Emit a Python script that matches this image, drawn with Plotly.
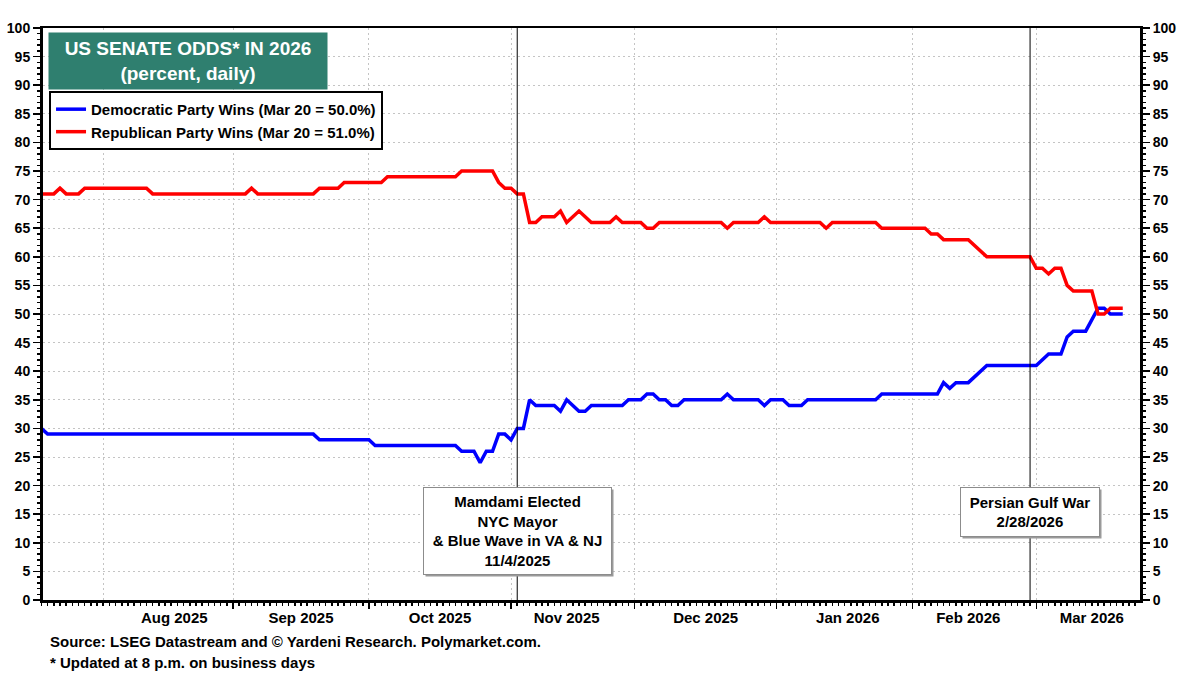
import plotly.graph_objects as go

# ---------------- data ----------------
dem_dates = [
    "2025-07-18", "2025-07-21", "2025-09-18", "2025-09-19", "2025-10-01", "2025-10-02",
    "2025-10-21", "2025-10-22", "2025-10-24", "2025-10-27", "2025-10-28", "2025-10-29",
    "2025-10-30", "2025-10-31", "2025-11-03", "2025-11-04", "2025-11-05", "2025-11-06",
    "2025-11-07", "2025-11-12", "2025-11-13", "2025-11-14", "2025-11-18", "2025-11-19",
    "2025-11-20", "2025-11-27", "2025-11-28", "2025-12-02", "2025-12-03", "2025-12-04",
    "2025-12-05", "2025-12-08", "2025-12-09", "2025-12-10", "2025-12-11", "2025-12-19",
    "2025-12-22", "2025-12-23", "2025-12-29", "2025-12-30", "2025-12-31", "2026-01-02",
    "2026-01-05", "2026-01-07", "2026-01-08", "2026-01-23", "2026-01-26", "2026-02-06",
    "2026-02-09", "2026-02-10", "2026-02-11", "2026-02-13", "2026-02-18", "2026-03-02",
    "2026-03-04", "2026-03-06", "2026-03-09", "2026-03-10", "2026-03-12", "2026-03-16",
    "2026-03-17", "2026-03-18", "2026-03-20",
]
dem_values = [
    30, 29, 29, 28, 28, 27,
    27, 26, 26, 24, 26, 26,
    29, 29, 28, 30, 30, 35,
    34, 34, 33, 35, 33, 33,
    34, 34, 35, 35, 36, 36,
    35, 35, 34, 34, 35, 35,
    36, 35, 35, 34, 35, 35,
    34, 34, 35, 35, 36, 36,
    38, 37, 38, 38, 41, 41,
    43, 43, 46, 47, 47, 51,
    51, 50, 50,
]

rep_dates = [
    "2025-07-18", "2025-07-22", "2025-07-23", "2025-07-24", "2025-07-28", "2025-07-29",
    "2025-08-12", "2025-08-13", "2025-09-03", "2025-09-04", "2025-09-05", "2025-09-18",
    "2025-09-19", "2025-09-24", "2025-09-25", "2025-10-03", "2025-10-06", "2025-10-21",
    "2025-10-22", "2025-10-29", "2025-10-30", "2025-10-31", "2025-11-03", "2025-11-04",
    "2025-11-05", "2025-11-06", "2025-11-07", "2025-11-10", "2025-11-12", "2025-11-13",
    "2025-11-14", "2025-11-18", "2025-11-20", "2025-11-25", "2025-11-26", "2025-11-27",
    "2025-12-02", "2025-12-03", "2025-12-04", "2025-12-05", "2025-12-19", "2025-12-22",
    "2025-12-23", "2025-12-29", "2025-12-30", "2025-12-31", "2026-01-12", "2026-01-13",
    "2026-01-14", "2026-01-23", "2026-01-26", "2026-02-04", "2026-02-05", "2026-02-06",
    "2026-02-09", "2026-02-13", "2026-02-18", "2026-02-27", "2026-03-02", "2026-03-03",
    "2026-03-04", "2026-03-05", "2026-03-06", "2026-03-09", "2026-03-10", "2026-03-13",
    "2026-03-16", "2026-03-17", "2026-03-18", "2026-03-20",
]
rep_values = [
    71, 71, 72, 71, 71, 72,
    72, 71, 71, 72, 71, 71,
    72, 72, 73, 73, 74, 74,
    75, 75, 73, 72, 72, 71,
    71, 66, 66, 67, 67, 68,
    66, 68, 66, 66, 67, 66,
    66, 65, 65, 66, 66, 65,
    66, 66, 67, 66, 66, 65,
    66, 66, 65, 65, 64, 64,
    63, 63, 60, 60, 58, 58,
    57, 58, 58, 55, 54, 54,
    50, 50, 51, 51,
]

event_dates = ["2025-11-04", "2026-02-27"]
event_texts = [
    "<b>Mamdami Elected<br>NYC Mayor<br>&amp; Blue Wave in VA &amp; NJ<br>11/4/2025</b>",
    "<b>Persian Gulf War<br>2/28/2026</b>",
]
event_label_y = [12.1, 15.4]
event_box_w = [187, 138]
event_box_h = [86, 48]

last_label = "Mar 20"
x_range = ["2025-07-18 06:00", "2026-03-24 19:00"]

FONT = "Liberation Sans, Arial, sans-serif"
BLUE = "#0000FF"
RED = "#FF0000"
TEAL = "#2F7F6F"
GRID = "#C4C4C4"

fig = go.Figure()
fig.add_trace(go.Scatter(
    x=dem_dates, y=dem_values, mode="lines",
    line=dict(color=BLUE, width=3.5),
    name=f"Democratic Party Wins ({last_label} = {dem_values[-1]:.1f}%)",
))
fig.add_trace(go.Scatter(
    x=rep_dates, y=rep_values, mode="lines",
    line=dict(color=RED, width=3.5),
    name=f"Republican Party Wins ({last_label} = {rep_values[-1]:.1f}%)",
))
# empty trace so the mirrored right axis renders
fig.add_trace(go.Scatter(x=[], y=[], yaxis="y2", showlegend=False, hoverinfo="skip"))

yaxis_common = dict(
    range=[0, 100], dtick=5, tick0=0,
    ticks="outside", ticklen=7, tickwidth=1.5, tickcolor="black",
    showline=True, linecolor="black", linewidth=3,
    tickfont=dict(family=FONT, size=14, color="black", weight="bold"),
    minor=dict(ticks="outside", ticklen=3, dtick=1, tickcolor="black", showgrid=False),
    zeroline=False, fixedrange=True, automargin=False,
)

fig.update_layout(
    width=1200, height=675,
    margin=dict(l=43, r=60, t=28, b=75, autoexpand=False),
    paper_bgcolor="white", plot_bgcolor="white",
    font=dict(family=FONT, color="black"),
    xaxis=dict(
        type="date", range=x_range,
        rangebreaks=[dict(bounds=["sat", "mon"])],
        dtick="M1", tick0="2025-08-01", ticklabelmode="period", tickformat="%b %Y",
        ticks="outside", ticklen=6, tickwidth=1.5, tickcolor="black",
        ticklabelstandoff=-4,
        tickfont=dict(family=FONT, size=15, color="black", weight="bold"),
        showgrid=True, gridcolor=GRID, griddash="2px,3px", gridwidth=1,
        showline=True, linecolor="black", linewidth=2.5, mirror=True,
        minor=dict(ticks="outside", ticklen=3, dtick=86400000, tick0="2025-07-18",
                   tickcolor="black", showgrid=False),
        zeroline=False, automargin=False, fixedrange=True,
    ),
    yaxis=dict(side="left", showgrid=True, gridcolor=GRID, griddash="2px,3px", gridwidth=1,
               **yaxis_common),
    yaxis2=dict(side="right", overlaying="y", showgrid=False, **yaxis_common),
    showlegend=True,
    legend=dict(
        x=0.0055, y=0.89, xanchor="left", yanchor="top",
        bgcolor="white", bordercolor="black", borderwidth=2,
        font=dict(family=FONT, size=15, color="black", weight="bold"),
        tracegroupgap=0, itemwidth=30,
    ),
)

shapes = []
annotations = []
for d, txt, yv, w, h in zip(event_dates, event_texts, event_label_y, event_box_w, event_box_h):
    shapes.append(dict(type="line", xref="x", yref="paper", x0=d, x1=d, y0=0, y1=1,
                       line=dict(color="black", width=1), layer="above"))
    # shadow
    annotations.append(dict(x=d, y=yv, xref="x", yref="y", text=" ", showarrow=False,
                            width=w, height=h, bgcolor="#9A9A9A", borderpad=0,
                            xshift=2, yshift=-2, xanchor="center", yanchor="middle"))
    annotations.append(dict(x=d, y=yv, xref="x", yref="y", text=txt, showarrow=False,
                            width=w, height=h, bgcolor="white", bordercolor="#8C8C8C",
                            borderwidth=1, borderpad=0, xanchor="center", yanchor="middle",
                            font=dict(family=FONT, size=15, color="black")))

# title box
annotations.append(dict(
    x=0.0046, y=0.993, xref="paper", yref="paper", xanchor="left", yanchor="top",
    text="<b>US SENATE ODDS* IN 2026</b><br><b>(percent, daily)</b>",
    showarrow=False, width=278, height=56, bgcolor=TEAL, borderpad=0,
    font=dict(family=FONT, size=19, color="white"),
))
# footer
annotations.append(dict(
    x=0.0046, y=-0.0734, xref="paper", yref="paper", xanchor="left", yanchor="middle",
    text="<b>Source: LSEG Datastream and © Yardeni Research. Polymarket.com.</b>",
    showarrow=False, font=dict(family=FONT, size=15, color="black"),
))
annotations.append(dict(
    x=0.0046, y=-0.110, xref="paper", yref="paper", xanchor="left", yanchor="middle",
    text="<b>* Updated at 8 p.m. on business days</b>",
    showarrow=False, font=dict(family=FONT, size=15, color="black"),
))

fig.update_layout(shapes=shapes, annotations=annotations)
fig.write_html(
    "out.html",
    config={"displayModeBar": False, "staticPlot": True},
    post_script="document.body.style.margin='0px';",
)
